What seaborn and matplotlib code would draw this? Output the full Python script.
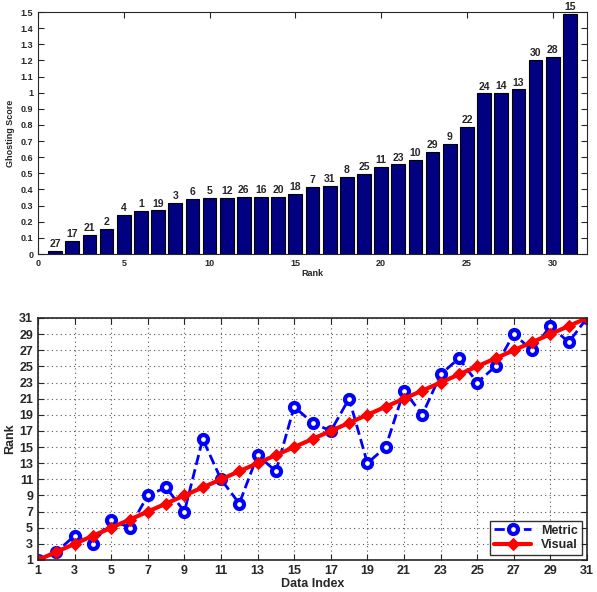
import numpy as np
import pandas as pd
import matplotlib
matplotlib.use("Agg")
import matplotlib.pyplot as plt
import seaborn as sns

sns.set_style("ticks")
plt.rcParams['font.family'] = ['Liberation Sans', 'DejaVu Sans']
plt.rcParams['font.weight'] = 'bold'

# ---- top chart data: ghosting score sorted by rank, labelled with data index ----
rank = list(range(1, 32))
data_label = [27, 17, 21, 2, 4, 1, 19, 3, 6, 5, 12, 26, 16, 20, 18, 7,
              31, 8, 25, 11, 23, 10, 29, 9, 22, 24, 14, 13, 30, 28, 15]
ghost_score = [0.02, 0.08, 0.12, 0.155, 0.24, 0.265, 0.27, 0.315, 0.34, 0.345,
               0.35, 0.355, 0.355, 0.355, 0.375, 0.415, 0.42, 0.475, 0.495,
               0.54, 0.555, 0.585, 0.635, 0.68, 0.79, 0.995, 1.0, 1.02, 1.2,
               1.22, 1.49]

# ---- bottom chart data: rank per data index ----
data_index = list(range(1, 32))
metric_rank = [1, 2, 4, 3, 6, 5, 9, 10, 7, 16, 11, 8, 14, 12, 20, 18, 17, 21,
               13, 15, 22, 19, 24, 26, 23, 25, 29, 27, 30, 28, 31]
visual_rank = list(range(1, 32))

top_df = pd.DataFrame({"Rank": rank, "Score": ghost_score, "Label": data_label})
rank_df = pd.DataFrame({"Index": data_index, "Metric": metric_rank, "Visual": visual_rank})

fig = plt.figure(figsize=(5.97, 5.92), dpi=100)
ax1 = fig.add_axes([38/597, 1 - 254/592, 549/597, 242/592])
ax2 = fig.add_axes([38/597, 1 - 560/592, 549/597, 242/592])

# ------- top: bar chart -------
sns.barplot(data=top_df, x="Rank", y="Score", native_scale=True, width=0.8,
            color="#000080", saturation=1, edgecolor="black", linewidth=0.8, ax=ax1)
for r, s, lab in zip(top_df.Rank, top_df.Score, top_df.Label):
    ax1.text(r, s + 0.012, str(lab), ha="center", va="bottom", fontsize=7.5, fontweight="bold")

ax1.set_xlim(0, 32)
ax1.set_ylim(0, 1.5)
ax1.set_xticks([0, 5, 10, 15, 20, 25, 30])
yt = np.round(np.arange(0, 1.51, 0.1), 1)
ax1.set_yticks(yt)
ax1.set_yticklabels(["%g" % v for v in yt])
ax1.tick_params(direction="in", top=True, right=True, labelsize=6.5, length=4, width=0.8)
ax1.set_xlabel("Rank", fontsize=6.5, fontweight="bold", labelpad=1)
ax1.set_ylabel("Ghosting Score", fontsize=6.5, fontweight="bold", labelpad=4)
for sp in ax1.spines.values():
    sp.set_visible(True)
    sp.set_linewidth(0.8)

# ------- bottom: rank comparison -------
sns.lineplot(data=rank_df, x="Index", y="Metric", ax=ax2, color="#0000FF",
             linestyle="--", linewidth=2, marker="o", markersize=6.5,
             markerfacecolor="white", markeredgecolor="#0000FF", markeredgewidth=3,
             label="Metric")
sns.lineplot(data=rank_df, x="Index", y="Visual", ax=ax2, color="#FF0000",
             linewidth=3, marker="D", markersize=6, markerfacecolor="#FF0000",
             markeredgecolor="#FF0000", label="Visual")

ax2.set_xlim(1, 31)
ax2.set_ylim(1, 31)
ax2.set_xticks(range(1, 32, 2))
ax2.set_yticks(range(1, 32, 2))
ax2.grid(True, linestyle=(0, (1, 3)), color="#555555", linewidth=0.8)
ax2.tick_params(direction="in", top=True, right=True, labelsize=9, length=4, width=0.8)
ax2.set_xlabel("Data Index", fontsize=9, fontweight="bold", labelpad=1)
ax2.set_ylabel("Rank", fontsize=9, fontweight="bold", labelpad=2)
for sp in ax2.spines.values():
    sp.set_visible(True)
    sp.set_linewidth(1.2)

leg = ax2.legend(loc="lower right", frameon=True, fancybox=False, fontsize=9,
                 handlelength=3, borderaxespad=0.4, borderpad=0.3, labelspacing=0.2)
leg.get_frame().set_edgecolor("black")
leg.get_frame().set_linewidth(1)
for t in leg.get_texts():
    t.set_fontweight("bold")

fig.savefig("out.png", dpi=100)
